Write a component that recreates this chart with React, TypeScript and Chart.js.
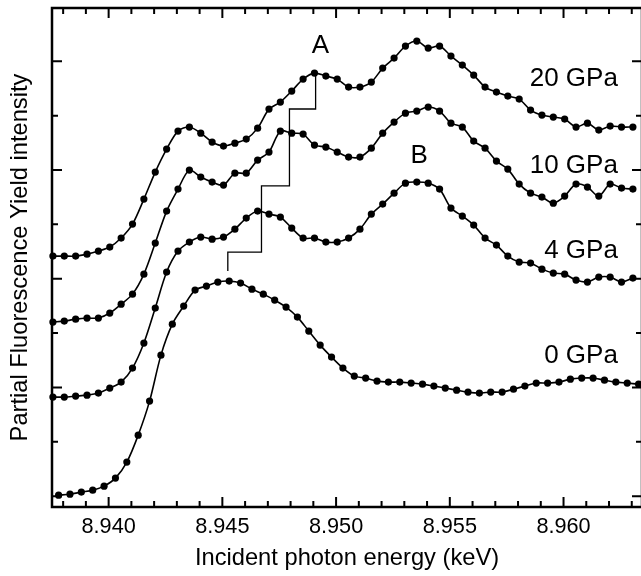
import React, { useEffect, useRef } from "react";
import { Chart, registerables } from "chart.js";

Chart.register(...registerables);

const FONT = "'Liberation Sans', Arial, Helvetica, sans-serif";

// Incident photon energy (keV) sampling grids
const energyAmbient = [
  8.9378, 8.9383, 8.9388, 8.9393, 8.9398, 8.9403, 8.9408, 8.9413, 8.9418, 8.9423,
  8.9428, 8.9433, 8.9438, 8.9443, 8.9448, 8.9453, 8.9458, 8.9463, 8.9468, 8.9473,
  8.9478, 8.9483, 8.9488, 8.9493, 8.9498, 8.9503, 8.9508, 8.9513, 8.9518, 8.9523,
  8.9528, 8.9533, 8.9538, 8.9543, 8.9548, 8.9553, 8.9558, 8.9563, 8.9568, 8.9573,
  8.9578, 8.9583, 8.9588, 8.9593, 8.9598, 8.9603, 8.9608, 8.9613, 8.9618, 8.9623,
  8.9628, 8.9633,
];
const energyHighP = [
  8.93755, 8.93805, 8.93855, 8.93905, 8.93955, 8.94005, 8.94055, 8.94105, 8.94155, 8.94205,
  8.94255, 8.94305, 8.94355, 8.94405, 8.94455, 8.94505, 8.94555, 8.94605, 8.94655, 8.94705,
  8.94755, 8.94805, 8.94855, 8.94905, 8.94955, 8.95005, 8.95055, 8.95105, 8.95155, 8.95205,
  8.95255, 8.95305, 8.95355, 8.95405, 8.95455, 8.95505, 8.95555, 8.95605, 8.95655, 8.95705,
  8.95755, 8.95805, 8.95855, 8.95905, 8.95955, 8.96005, 8.96055, 8.96105, 8.96155, 8.96205,
  8.96255, 8.96305,
];

// Partial fluorescence yield (offset, arb. units)
const yield0GPa = [
  0.009, 0.018, 0.037, 0.055, 0.092, 0.166, 0.313, 0.561, 0.874, 1.297,
  1.582, 1.748, 1.895, 1.932, 1.969, 1.978, 1.96, 1.904, 1.858, 1.803,
  1.739, 1.647, 1.518, 1.389, 1.279, 1.178, 1.104, 1.086, 1.058, 1.049,
  1.049, 1.04, 1.03, 1.012, 0.994, 0.975, 0.957, 0.948, 0.957, 0.957,
  0.984, 1.012, 1.04, 1.04, 1.049, 1.076, 1.086, 1.086, 1.067, 1.049,
  1.04, 1.03,
];
const yield4GPa = [
  0.911, 0.911, 0.92, 0.929, 0.948, 0.994, 1.049, 1.178, 1.408, 1.73,
  2.061, 2.254, 2.337, 2.383, 2.364, 2.383, 2.456, 2.558, 2.622, 2.594,
  2.567, 2.466, 2.374, 2.374, 2.337, 2.337, 2.374, 2.456, 2.594, 2.686,
  2.787, 2.879, 2.889, 2.879, 2.824, 2.65, 2.576, 2.493, 2.374, 2.309,
  2.208, 2.153, 2.144, 2.088, 2.052, 2.042, 1.987, 1.969, 2.015, 2.015,
  1.969, 2.006,
];
const yield10GPa = [
  1.601, 1.61, 1.628, 1.638, 1.638, 1.684, 1.766, 1.858, 2.042, 2.328,
  2.622, 2.824, 2.999, 2.935, 2.889, 2.861, 2.971, 2.971, 3.091, 3.165,
  3.358, 3.339, 3.33, 3.229, 3.211, 3.165, 3.119, 3.119, 3.201, 3.339,
  3.441, 3.523, 3.542, 3.579, 3.542, 3.431, 3.395, 3.266, 3.201, 3.082,
  3.008, 2.87, 2.787, 2.751, 2.695, 2.76, 2.87, 2.843, 2.76, 2.87,
  2.834, 2.824,
];
const yield20GPa = [
  2.208, 2.208, 2.208, 2.226, 2.254, 2.291, 2.374, 2.502, 2.732, 2.981,
  3.192, 3.358, 3.395, 3.339, 3.257, 3.22, 3.247, 3.284, 3.385, 3.56,
  3.625, 3.726, 3.836, 3.891, 3.864, 3.836, 3.763, 3.763, 3.809, 3.937,
  4.029, 4.14, 4.186, 4.121, 4.14, 4.048, 3.965, 3.873, 3.763, 3.717,
  3.68, 3.652, 3.551, 3.505, 3.487, 3.468, 3.395, 3.431, 3.367, 3.404,
  3.395, 3.395,
];

// Staircase guide joining peak A positions
const stepEnergy = [8.9491, 8.9491, 8.94795, 8.94795, 8.94672, 8.94672, 8.94524, 8.94524];
const stepYield = [3.866, 3.561, 3.561, 2.853, 2.853, 2.245, 2.245, 2.07];

// Axis ticks
const xTickValues = [8.94, 8.945, 8.95, 8.955, 8.96];
const xTickLabels = ["8.940", "8.945", "8.950", "8.955", "8.960"];

// Text annotations
const labelTexts = ["A", "B", "20 GPa", "10 GPa", "4 GPa", "0 GPa"];
const labelEnergy = [8.94931, 8.95365, 8.96239, 8.96239, 8.96239, 8.96239];
const labelYield = [4.077, 3.065, 3.774, 2.975, 2.191, 1.229];
const labelAlign = ["center", "center", "right", "right", "right", "right"];

const framePlugin = {
  id: "frameTicks",
  beforeDatasetsDraw(chart: any) {
    const { ctx, chartArea: a, scales } = chart;
    const xs = scales.x;
    const ys = scales.y;
    ctx.save();
    ctx.strokeStyle = "#000";
    ctx.lineWidth = 2;
    ctx.beginPath();
    for (let k = 8938; k <= 8963; k++) {
      const px = xs.getPixelForValue(k / 1000);
      const len = k % 5 === 0 ? 10 : 6;
      ctx.moveTo(px, a.bottom);
      ctx.lineTo(px, a.bottom - len);
      ctx.moveTo(px, a.top);
      ctx.lineTo(px, a.top + len);
    }
    for (let k = 0; k <= 8; k++) {
      const py = ys.getPixelForValue(k * 0.5);
      const len = k % 2 === 0 ? 10 : 6;
      ctx.moveTo(a.left, py);
      ctx.lineTo(a.left + len, py);
      ctx.moveTo(a.right, py);
      ctx.lineTo(a.right - len, py);
    }
    ctx.stroke();
    ctx.lineWidth = 2.5;
    ctx.strokeRect(a.left, a.top, a.right - a.left, a.bottom - a.top);
    ctx.restore();
  },
  afterDatasetsDraw(chart: any) {
    const { ctx, scales } = chart;
    ctx.save();
    ctx.fillStyle = "#000";
    ctx.font = `26px ${FONT}`;
    ctx.textBaseline = "alphabetic";
    labelTexts.forEach((t, i) => {
      ctx.textAlign = labelAlign[i];
      ctx.fillText(
        t,
        scales.x.getPixelForValue(labelEnergy[i]),
        scales.y.getPixelForValue(labelYield[i])
      );
    });
    ctx.restore();
  },
};

function curve(energy: number[], values: number[]) {
  return {
    data: energy.map((x, i) => ({ x, y: values[i] })),
    borderColor: "#000",
    backgroundColor: "#000",
    borderWidth: 1.6,
    pointRadius: 3.6,
    pointBorderWidth: 0,
    pointBackgroundColor: "#000",
    tension: 0.3,
    clip: false as any,
  };
}

export default function App() {
  const ref = useRef<HTMLCanvasElement | null>(null);

  useEffect(() => {
    if (!ref.current) return;
    const chart = new Chart(ref.current, {
      type: "line",
      data: {
        datasets: [
          curve(energyAmbient, yield0GPa),
          curve(energyHighP, yield4GPa),
          curve(energyHighP, yield10GPa),
          curve(energyHighP, yield20GPa),
          {
            data: stepEnergy.map((x, i) => ({ x, y: stepYield[i] })),
            borderColor: "#000",
            borderWidth: 1.3,
            pointRadius: 0,
            tension: 0,
          },
        ],
      },
      options: {
        animation: false,
        responsive: false,
        devicePixelRatio: 1,
        layout: { padding: { top: 8, left: 0, right: 0, bottom: 0 } },
        plugins: { legend: { display: false }, tooltip: { enabled: false } },
        scales: {
          x: {
            type: "linear",
            min: 8.93751,
            max: 8.96345,
            grid: { display: false, drawTicks: false },
            border: { display: false },
            afterBuildTicks: (scale: any) => {
              scale.ticks = xTickValues.map((v) => ({ value: v }));
            },
            afterFit: (scale: any) => {
              scale.height = 69;
            },
            ticks: {
              autoSkip: false,
              maxRotation: 0,
              padding: 9,
              color: "#000",
              font: { family: FONT, size: 21.7, lineHeight: 1 },
              callback: (_v: any, i: number) => xTickLabels[i],
            },
            title: {
              display: true,
              text: "Incident photon energy (keV)",
              color: "#000",
              font: { family: FONT, size: 23.7, lineHeight: 1 },
              padding: { top: 0, bottom: 6 },
            },
          },
          y: {
            type: "linear",
            min: -0.1,
            max: 4.49,
            grid: { display: false, drawTicks: false },
            border: { display: false },
            ticks: { display: false },
            afterFit: (scale: any) => {
              scale.width = 52;
            },
            title: {
              display: true,
              text: "Partial Fluorescence Yield intensity",
              color: "#000",
              font: { family: FONT, size: 23.7, lineHeight: 1 },
              padding: { top: 8.7, bottom: 0 },
            },
          },
        },
      } as any,
      plugins: [framePlugin as any],
    });
    return () => chart.destroy();
  }, []);

  return (
    <div
      style={{
        position: "fixed",
        left: 0,
        top: 0,
        width: 641,
        height: 576,
        overflow: "hidden",
        background: "#fff",
      }}
    >
      <canvas ref={ref} width={646} height={576} style={{ display: "block" }} />
    </div>
  );
}
